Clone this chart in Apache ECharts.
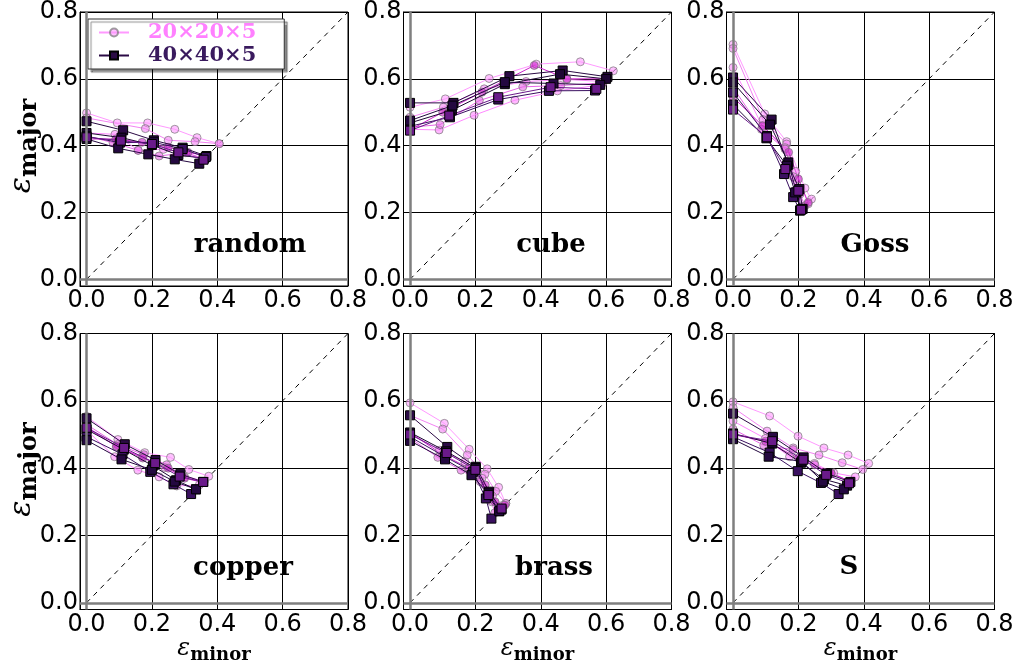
<!DOCTYPE html>
<html><head><meta charset="utf-8">
<script src="https://cdn.jsdelivr.net/npm/echarts@6/dist/echarts.min.js"></script>
<style>html,body{margin:0;padding:0;background:#fff}#c{width:1020px;height:670px}</style>
</head><body><div id="c"></div>
<script>
// ---------------- data ----------------
const panelNames = ['random', 'cube', 'Goss', 'copper', 'brass', 'S'];
const legendNames = ['20×20×5', '40×40×5'];
const axisMin = -0.02, axisMax = 0.8;
const diagonal = [[0, 0], [0.8, 0.8]];

const random20 = [
  [[0,0.498],[0.094,0.468],[0.187,0.468],[0.27,0.449],[0.338,0.424],[0.406,0.406]],
  [[0,0.483],[0.18,0.451],[0.25,0.416],[0.332,0.412],[0.406,0.406]],
  [[0,0.438],[0.087,0.434],[0.158,0.386],[0.235,0.389],[0.304,0.379],[0.362,0.36]],
  [[0,0.429],[0.081,0.409],[0.158,0.386],[0.222,0.369],[0.304,0.379],[0.36,0.36]],
  [[0,0.42],[0.09,0.42],[0.17,0.41],[0.25,0.395],[0.31,0.38],[0.365,0.37]]
];
const random40 = [
  [[0,0.473],[0.112,0.446],[0.206,0.416],[0.294,0.394],[0.367,0.369]],
  [[0,0.438],[0.107,0.424],[0.2,0.402],[0.281,0.372],[0.36,0.362]],
  [[0,0.428],[0.102,0.409],[0.206,0.41],[0.294,0.39],[0.365,0.366]],
  [[0,0.42],[0.097,0.392],[0.189,0.374],[0.27,0.359],[0.345,0.346]],
  [[0,0.425],[0.105,0.415],[0.2,0.405],[0.281,0.38],[0.358,0.358]]
];
const cube20 = [
  [[0,0.515],[0.108,0.54],[0.242,0.601],[0.386,0.644],[0.521,0.651],[0.622,0.624]],
  [[0,0.485],[0.102,0.515],[0.227,0.57],[0.355,0.592],[0.48,0.598],[0.592,0.592]],
  [[0,0.449],[0.089,0.447],[0.196,0.491],[0.321,0.536],[0.451,0.564],[0.585,0.582]],
  [[0,0.455],[0.092,0.463],[0.212,0.535],[0.345,0.576],[0.461,0.58],[0.59,0.588]],
  [[0,0.447],[0.1,0.5],[0.22,0.56],[0.38,0.64],[0.48,0.6],[0.6,0.6]]
];
const cube40 = [
  [[0,0.528],[0.133,0.528],[0.304,0.608],[0.467,0.625],[0.604,0.606]],
  [[0,0.468],[0.128,0.506],[0.29,0.584],[0.459,0.614],[0.6,0.6]],
  [[0,0.458],[0.122,0.485],[0.27,0.538],[0.425,0.564],[0.566,0.565]],
  [[0,0.475],[0.13,0.52],[0.29,0.59],[0.439,0.586],[0.582,0.582]],
  [[0,0.445],[0.12,0.49],[0.27,0.545],[0.43,0.575],[0.57,0.57]]
];
const goss20 = [
  [[0,0.703],[0.097,0.495],[0.164,0.412],[0.22,0.273],[0.24,0.24]],
  [[0,0.691],[0.092,0.478],[0.164,0.405],[0.192,0.323],[0.23,0.226]],
  [[0,0.634],[0.09,0.458],[0.159,0.394],[0.184,0.307],[0.215,0.216]],
  [[0,0.574],[0.087,0.449],[0.159,0.39],[0.205,0.255],[0.22,0.22]],
  [[0,0.545],[0.09,0.46],[0.17,0.38],[0.2,0.3],[0.23,0.23]]
];
const goss40 = [
  [[0,0.604],[0.118,0.478],[0.169,0.343],[0.203,0.27],[0.213,0.211]],
  [[0,0.589],[0.113,0.463],[0.169,0.35],[0.194,0.26],[0.205,0.206]],
  [[0,0.559],[0.104,0.429],[0.156,0.315],[0.184,0.246],[0.205,0.206]],
  [[0,0.523],[0.102,0.422],[0.165,0.34],[0.19,0.26],[0.21,0.21]],
  [[0,0.508],[0.104,0.425],[0.16,0.33],[0.2,0.265],[0.208,0.208]]
];
const copper20 = [
  [[0,0.554],[0.096,0.485],[0.178,0.446],[0.257,0.432],[0.313,0.396],[0.374,0.376]],
  [[0,0.525],[0.091,0.463],[0.17,0.434],[0.239,0.402],[0.3,0.374],[0.355,0.359]],
  [[0,0.513],[0.086,0.434],[0.157,0.394],[0.222,0.374],[0.276,0.347],[0.345,0.35]],
  [[0,0.53],[0.095,0.47],[0.175,0.44],[0.245,0.41],[0.29,0.38],[0.36,0.36]],
  [[0,0.52],[0.092,0.465],[0.172,0.43],[0.25,0.4],[0.3,0.37],[0.355,0.358]]
];
const copper40 = [
  [[0,0.548],[0.117,0.471],[0.211,0.424],[0.287,0.382],[0.357,0.359]],
  [[0,0.515],[0.114,0.455],[0.203,0.407],[0.274,0.364],[0.335,0.337]],
  [[0,0.493],[0.11,0.441],[0.195,0.389],[0.266,0.352],[0.32,0.323]],
  [[0,0.483],[0.107,0.426],[0.2,0.395],[0.27,0.36],[0.335,0.337]],
  [[0,0.52],[0.115,0.46],[0.21,0.415],[0.285,0.375],[0.357,0.359]]
];
const brass20 = [
  [[0,0.594],[0.105,0.533],[0.181,0.456],[0.236,0.398],[0.271,0.343],[0.293,0.295]],
  [[0,0.557],[0.1,0.516],[0.175,0.439],[0.229,0.382],[0.262,0.331],[0.293,0.295]],
  [[0,0.503],[0.09,0.453],[0.168,0.419],[0.22,0.37],[0.252,0.317],[0.285,0.29]],
  [[0,0.49],[0.085,0.432],[0.156,0.394],[0.215,0.36],[0.25,0.3],[0.259,0.267]],
  [[0,0.505],[0.1,0.44],[0.18,0.4],[0.23,0.35],[0.26,0.3],[0.29,0.29]]
];
const brass40 = [
  [[0,0.557],[0.114,0.463],[0.201,0.404],[0.242,0.33],[0.28,0.277]],
  [[0,0.506],[0.11,0.45],[0.201,0.4],[0.239,0.317],[0.273,0.272]],
  [[0,0.493],[0.107,0.434],[0.193,0.389],[0.232,0.31],[0.249,0.25]],
  [[0,0.481],[0.107,0.426],[0.188,0.379],[0.24,0.325],[0.273,0.272]],
  [[0,0.5],[0.112,0.445],[0.2,0.395],[0.24,0.32],[0.28,0.28]]
];
const s20 = [
  [[0,0.597],[0.112,0.555],[0.199,0.495],[0.278,0.46],[0.352,0.439],[0.415,0.414]],
  [[0,0.58],[0.104,0.51],[0.184,0.46],[0.263,0.439],[0.334,0.416],[0.397,0.396]],
  [[0,0.54],[0.099,0.488],[0.173,0.434],[0.249,0.414],[0.308,0.386],[0.374,0.374]],
  [[0,0.516],[0.094,0.468],[0.184,0.455],[0.25,0.41],[0.3,0.385],[0.36,0.36]],
  [[0,0.5],[0.1,0.48],[0.2,0.43],[0.3,0.385],[0.36,0.36]]
];
const s40 = [
  [[0,0.562],[0.122,0.493],[0.216,0.432],[0.288,0.384],[0.359,0.359]],
  [[0,0.503],[0.12,0.473],[0.208,0.416],[0.278,0.367],[0.349,0.348]],
  [[0,0.493],[0.112,0.446],[0.198,0.391],[0.269,0.356],[0.323,0.323]],
  [[0,0.486],[0.109,0.434],[0.21,0.42],[0.275,0.36],[0.339,0.337]],
  [[0,0.5],[0.12,0.48],[0.215,0.425],[0.285,0.38],[0.355,0.355]]
];
const panelData20 = [random20, cube20, goss20, copper20, brass20, s20];
const panelData40 = [random40, cube40, goss40, copper40, brass40, s40];

// ---------------- styles / layout ----------------
const pinkColors = ['#ff99ff', '#f383f3', '#ff88ff', '#e766e7', '#cc22cc'];
const darkColors = ['#2b0a45', '#1e0634', '#3a1060', '#240840', '#6a1a8a'];
const gridLefts = [80, 403.5, 726.5];
const gridTops = [10, 333.5];
const gridW = 268, gridH = 276;
const labelPos = [[250,245],[551,245],[875,245],[243,568],[554,568],[849,567]];

function hexA(hex, a) {
  const n = parseInt(hex.slice(1), 16);
  return 'rgba(' + ((n >> 16) & 255) + ',' + ((n >> 8) & 255) + ',' + (n & 255) + ',' + a + ')';
}

const grids = [], xAxes = [], yAxes = [], series = [], graphics = [];
panelNames.forEach((name, i) => {
  const r = Math.floor(i / 3), c = i % 3;
  grids.push({left: gridLefts[c], top: gridTops[r], width: gridW, height: gridH,
    show: true, borderColor: '#000', borderWidth: 1, backgroundColor: '#fff'});
  const lab = {showMinLabel: false, fontFamily: 'DejaVu Sans', fontSize: 24, color: '#000',
    formatter: v => v.toFixed(1)};
  const common = {type: 'value', gridIndex: i, min: axisMin, max: axisMax, splitNumber: 4,
    axisLine: {show: true, onZero: false, lineStyle: {color: '#000', width: 1}},
    axisTick: {show: false},
    splitLine: {show: true, lineStyle: {color: '#000', width: 1}}};
  xAxes.push(Object.assign({}, common, {axisLabel: Object.assign({}, lab, {margin: 3})}));
  yAxes.push(Object.assign({}, common, {axisLabel: Object.assign({}, lab, {margin: 2})}));

  series.push({type: 'line', xAxisIndex: i, yAxisIndex: i, data: diagonal, symbol: 'none', silent: true,
    lineStyle: {color: '#000', width: 1, type: [5, 5]}, z: 1,
    markLine: {silent: true, symbol: ['none', 'none'], label: {show: false},
      lineStyle: {color: '#7f7f7f', width: 2.5, type: 'solid'},
      data: [{xAxis: 0}, {yAxis: 0}]}});

  panelData20[i].forEach((line, k) => {
    const col = pinkColors[k % pinkColors.length];
    series.push({type: 'line', name: legendNames[0], xAxisIndex: i, yAxisIndex: i, data: line,
      symbol: 'circle', symbolSize: 8, z: 3,
      lineStyle: {color: col, width: 1},
      itemStyle: {color: hexA(col, 0.6), borderColor: 'rgba(120,120,120,0.7)', borderWidth: 1}});
  });
  panelData40[i].forEach((line, k) => {
    const col = darkColors[k % darkColors.length];
    series.push({type: 'line', name: legendNames[1], xAxisIndex: i, yAxisIndex: i, data: line,
      symbol: 'rect', symbolSize: 9, z: 4,
      lineStyle: {color: col, width: 1},
      itemStyle: {color: col, borderColor: '#000', borderWidth: 1}});
  });

  graphics.push({type: 'text', x: labelPos[i][0], y: labelPos[i][1], z: 10,
    style: {text: name, fill: '#000', font: 'bold 26px "DejaVu Serif"', align: 'center', verticalAlign: 'middle'}});
});

const richY = {
  e: {fill: '#000', fontFamily: 'DejaVu Serif', fontStyle: 'italic', fontSize: 30},
  s: {fill: '#000', fontFamily: 'DejaVu Serif', fontWeight: 'bold', fontSize: 24, padding: [16, 0, 0, 0]}
};
const richX = {
  e: {fill: '#000', fontFamily: 'DejaVu Serif', fontStyle: 'italic', fontSize: 24},
  s: {fill: '#000', fontFamily: 'DejaVu Serif', fontWeight: 'bold', fontSize: 18, padding: [13, 0, 0, 0]}
};
gridTops.forEach(t => {
  graphics.push({type: 'text', x: 22, y: t + gridH / 2 - 2, rotation: Math.PI / 2,
    style: {text: '{e|ε}{s|major}', rich: richY, align: 'center', verticalAlign: 'middle'}});
});
gridLefts.forEach(l => {
  graphics.push({type: 'text', x: l + gridW / 2, y: 649,
    style: {text: '{e|ε}{s|minor}', rich: richX, align: 'center', verticalAlign: 'middle'}});
});

const chart = echarts.init(document.getElementById('c'), null, {renderer: 'canvas'});
chart.setOption({
  animation: false,
  backgroundColor: '#fff',
  grid: grids, xAxis: xAxes, yAxis: yAxes, series: series, graphic: graphics,
  legend: {left: 88, top: 19, orient: 'vertical', backgroundColor: '#fff',
    borderColor: '#333', borderWidth: 1, borderRadius: 0,
    shadowColor: 'rgba(0,0,0,0.45)', shadowBlur: 1, shadowOffsetX: 3, shadowOffsetY: 3,
    padding: [3, 28, 3, 10], itemGap: 2, itemWidth: 30, itemHeight: 10,
    textStyle: {fontFamily: 'DejaVu Serif', fontWeight: 'bold', fontSize: 21, padding: [0, 0, 0, 14]},
    data: [{name: legendNames[0], textStyle: {color: '#ff80ff'}},
           {name: legendNames[1], textStyle: {color: '#3a1a5e'}}]}
});
</script></body></html>
